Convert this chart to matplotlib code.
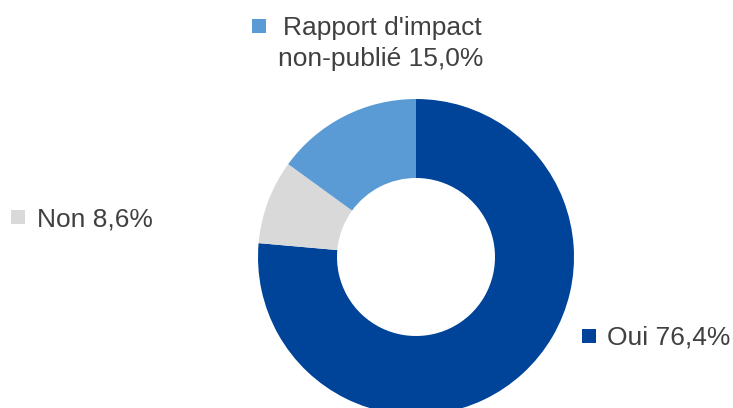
import matplotlib
matplotlib.use("Agg")
import matplotlib.pyplot as plt
from matplotlib.patches import Rectangle

categories = ["Oui", "Non", "Rapport d'impact\nnon-publié"]
shares = [76.4, 8.6, 15.0]
colors = ["#00449A", "#D9D9D9", "#5B9BD5"]
text_color = "#404040"

plt.rcParams["font.family"] = ["Liberation Sans", "DejaVu Sans"]

W, H = 733, 408
fig = plt.figure(figsize=(W / 100, H / 100), dpi=100)
ax = fig.add_axes([0, 0, 1, 1])

# donut, clockwise from 12 o'clock
ax.pie(shares, colors=colors, startangle=90, counterclock=False,
       center=(416, H - 257), radius=158,
       wedgeprops=dict(width=79, linewidth=0))
ax.set_xlim(0, W)
ax.set_ylim(0, H)
ax.set_aspect("equal")
ax.axis("off")


def fmt(v):
    return f"{v:.1f}".replace(".", ",") + "%"


def marker(x, y_top, color, size=14):
    ax.add_patch(Rectangle((x, H - y_top - size), size, size,
                           facecolor=color, edgecolor="none"))


fs = 19
# Oui
marker(582, 329, colors[0])
ax.text(607, H - 345, f"{categories[0]} {fmt(shares[0])}", fontsize=fs,
        color=text_color, ha="left", va="baseline")
# Non
marker(11, 210, colors[1])
ax.text(37, H - 227, f"{categories[1]} {fmt(shares[1])}", fontsize=fs,
        color=text_color, ha="left", va="baseline")
# Rapport d'impact non-publié
line1, line2 = categories[2].split("\n")
marker(252, 19, colors[2])
ax.text(382, H - 35, line1, fontsize=fs, color=text_color,
        ha="center", va="baseline")
ax.text(381, H - 66, f"{line2} {fmt(shares[2])}", fontsize=fs,
        color=text_color, ha="center", va="baseline")

fig.savefig("out.png", dpi=100)
